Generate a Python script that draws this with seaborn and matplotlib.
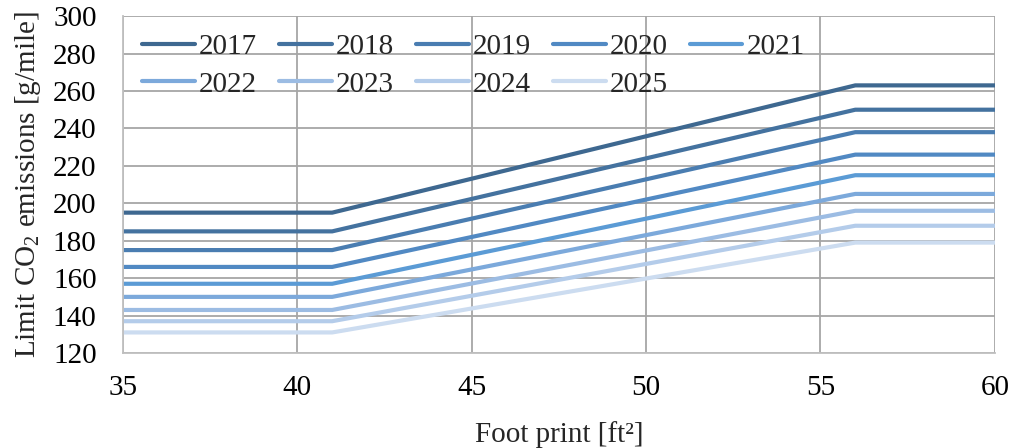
import matplotlib
matplotlib.use("Agg")
import matplotlib.pyplot as plt
import pandas as pd
import seaborn as sns

# Footprint breakpoints (ft²) and CO2 limits (g/mile) per model year
footprint = [35, 41, 56, 60]
years = ["2017", "2018", "2019", "2020", "2021", "2022", "2023", "2024", "2025"]
limit_small = [195, 185, 175, 166, 157, 150, 143, 137, 131]
limit_large = [263, 250, 238, 226, 215, 205, 196, 188, 179]

colors = ["#3E6890", "#44729F", "#4A7DB1", "#5189C3", "#5B9BD5",
          "#7CA9DB", "#9CBCE3", "#B4CCEA", "#CCDCF0"]

rows = []
for yr, lo, hi in zip(years, limit_small, limit_large):
    vals = [lo, lo, hi, hi]
    for x, v in zip(footprint, vals):
        rows.append({"Year": yr, "Footprint": x, "Limit": v})
df = pd.DataFrame(rows)

sns.set_theme(style="white")
plt.rcParams["font.family"] = ["Liberation Serif", "DejaVu Serif"]
plt.rcParams["mathtext.fontset"] = "custom"
plt.rcParams["mathtext.rm"] = "Liberation Serif"

FS = 21

fig = plt.figure(figsize=(10.12, 4.48), dpi=100)
ax = fig.add_axes([0.1215, 0.212, 0.8615, 0.752])

sns.lineplot(data=df, x="Footprint", y="Limit", hue="Year", palette=colors,
             linewidth=3.0, ax=ax, legend=True)

ax.set_xlim(35, 60)
ax.set_ylim(120, 300)
ax.set_xticks([35, 40, 45, 50, 55, 60])
ax.set_yticks(range(120, 301, 20))
ax.grid(True, color="#A6A6A6", linewidth=1.3)
ax.set_axisbelow(True)
for side in ["top", "right"]:
    ax.spines[side].set_visible(False)
for side in ["left", "bottom"]:
    ax.spines[side].set_color("#BFBFBF")
    ax.spines[side].set_linewidth(1.3)
ax.tick_params(axis="both", length=0, labelsize=FS, colors="black")
ax.tick_params(axis="x", pad=16)
ax.tick_params(axis="y", pad=19)

ax.set_xlabel("Foot print [ft²]", fontsize=FS, labelpad=14)
ax.set_ylabel(r"Limit CO$_2$ emissions [g/mile]", fontsize=FS, labelpad=7)

# Fill the legend row by row: 2017-2021 on top, 2022-2025 below
handles, labels = ax.get_legend_handles_labels()
order = [0, 5, 1, 6, 2, 7, 3, 8, 4]
leg = ax.legend([handles[i] for i in order], [labels[i] for i in order],
                ncol=5, loc="upper left", bbox_to_anchor=(0.002, 1.0),
                frameon=False, fontsize=FS, handlelength=1.8,
                handletextpad=0.15, columnspacing=0.75, labelspacing=0.38,
                borderaxespad=0.2)
for line in leg.get_lines():
    line.set_linewidth(3.0)
    line.set_solid_capstyle("round")

fig.savefig("out.png", dpi=100)
